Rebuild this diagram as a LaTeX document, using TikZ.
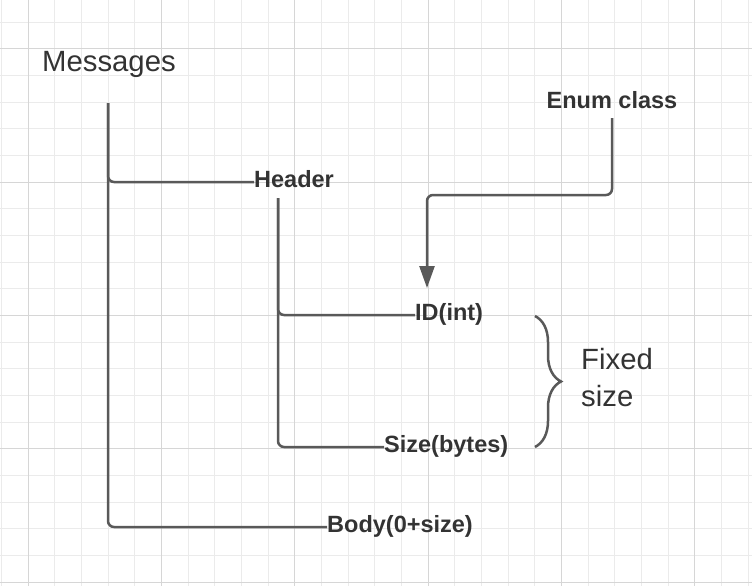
\documentclass[tikz,border=0pt]{standalone}
\usepackage{fontspec}
\setmainfont{Liberation Sans}
\usepackage{xcolor}
\usepackage{tikz}
\usetikzlibrary{calc}
\usetikzlibrary{arrows.meta}
\usetikzlibrary{decorations.pathreplacing}
\definecolor{ink}{HTML}{333333}
\definecolor{wire}{HTML}{595959}
\definecolor{minorgrid}{HTML}{EBEBEB}
\definecolor{majorgrid}{HTML}{D6D6D6}
\tikzset{
	lbl/.style={font=\bfseries\fontsize{23.5}{28}\selectfont,text=ink,inner sep=0pt,text height=16.8pt,text depth=5pt},
	plain/.style={font=\fontsize{29.3}{37}\selectfont,text=ink,inner sep=0pt},
	link/.style={draw=wire,line width=2.5pt,rounded corners=6pt},
}
\begin{document}
\begin{tikzpicture}[x=1pt,y=-1pt]
	\useasboundingbox[fill=white] (0,0) rectangle (752,586);
	% grid
	\foreach \i in {0,...,28}
		\draw[minorgrid,line width=1pt] ({1.6+26.667*\i},0)--({1.6+26.667*\i},586);
	\foreach \i in {0,...,21}
		\draw[minorgrid,line width=1pt] (0,{22.3+26.667*\i})--(752,{22.3+26.667*\i});
	\foreach \i in {1,6,11,16,21,26}
		\draw[majorgrid,line width=1pt] ({1.6+26.667*\i},0)--({1.6+26.667*\i},586);
	\foreach \i in {1,6,11,16,21}
		\draw[majorgrid,line width=1pt] (0,{22.3+26.667*\i})--(752,{22.3+26.667*\i});
	% labels
	\node[plain,anchor=base west] (msg) at (42,71) {Messages};
	\node[lbl,anchor=west] (hdr) at (254,182) {Header};
	\node[lbl,anchor=west] (id) at (415,315) {ID(int)};
	\node[lbl,anchor=west] (size) at (384,447) {Size(bytes)};
	\node[lbl,anchor=west] (body) at (327,527) {Body(0+size)};
	\node[lbl,anchor=base] (enum) at (612,108) {Enum class};
	\node[plain,align=left,anchor=west] (fixed) at (581,378) {Fixed\\size};
	% tree lines
	\coordinate (m0) at (108,103);
	\coordinate (h0) at (278,198);
	\draw[link] (m0) |- (hdr.west);
	\draw[link] (m0) |- (body.west);
	\draw[link] (h0) |- (id.west);
	\draw[link] (h0) |- (size.west);
	% enum arrow
	\coordinate (e0) at (612,118);
	\coordinate (bend) at (427,195);
	\coordinate (tip) at (427,288);
	\draw[link,-{Triangle[width=15pt,length=22pt]}] (e0) |- (bend) -- (tip);
	% brace
	\coordinate (br1) at (535,316);
	\coordinate (br2) at (535,447);
	\draw[wire,line width=2.5pt,decorate,decoration={brace,amplitude=26pt}] (br1)--(br2);
\end{tikzpicture}
\end{document}
